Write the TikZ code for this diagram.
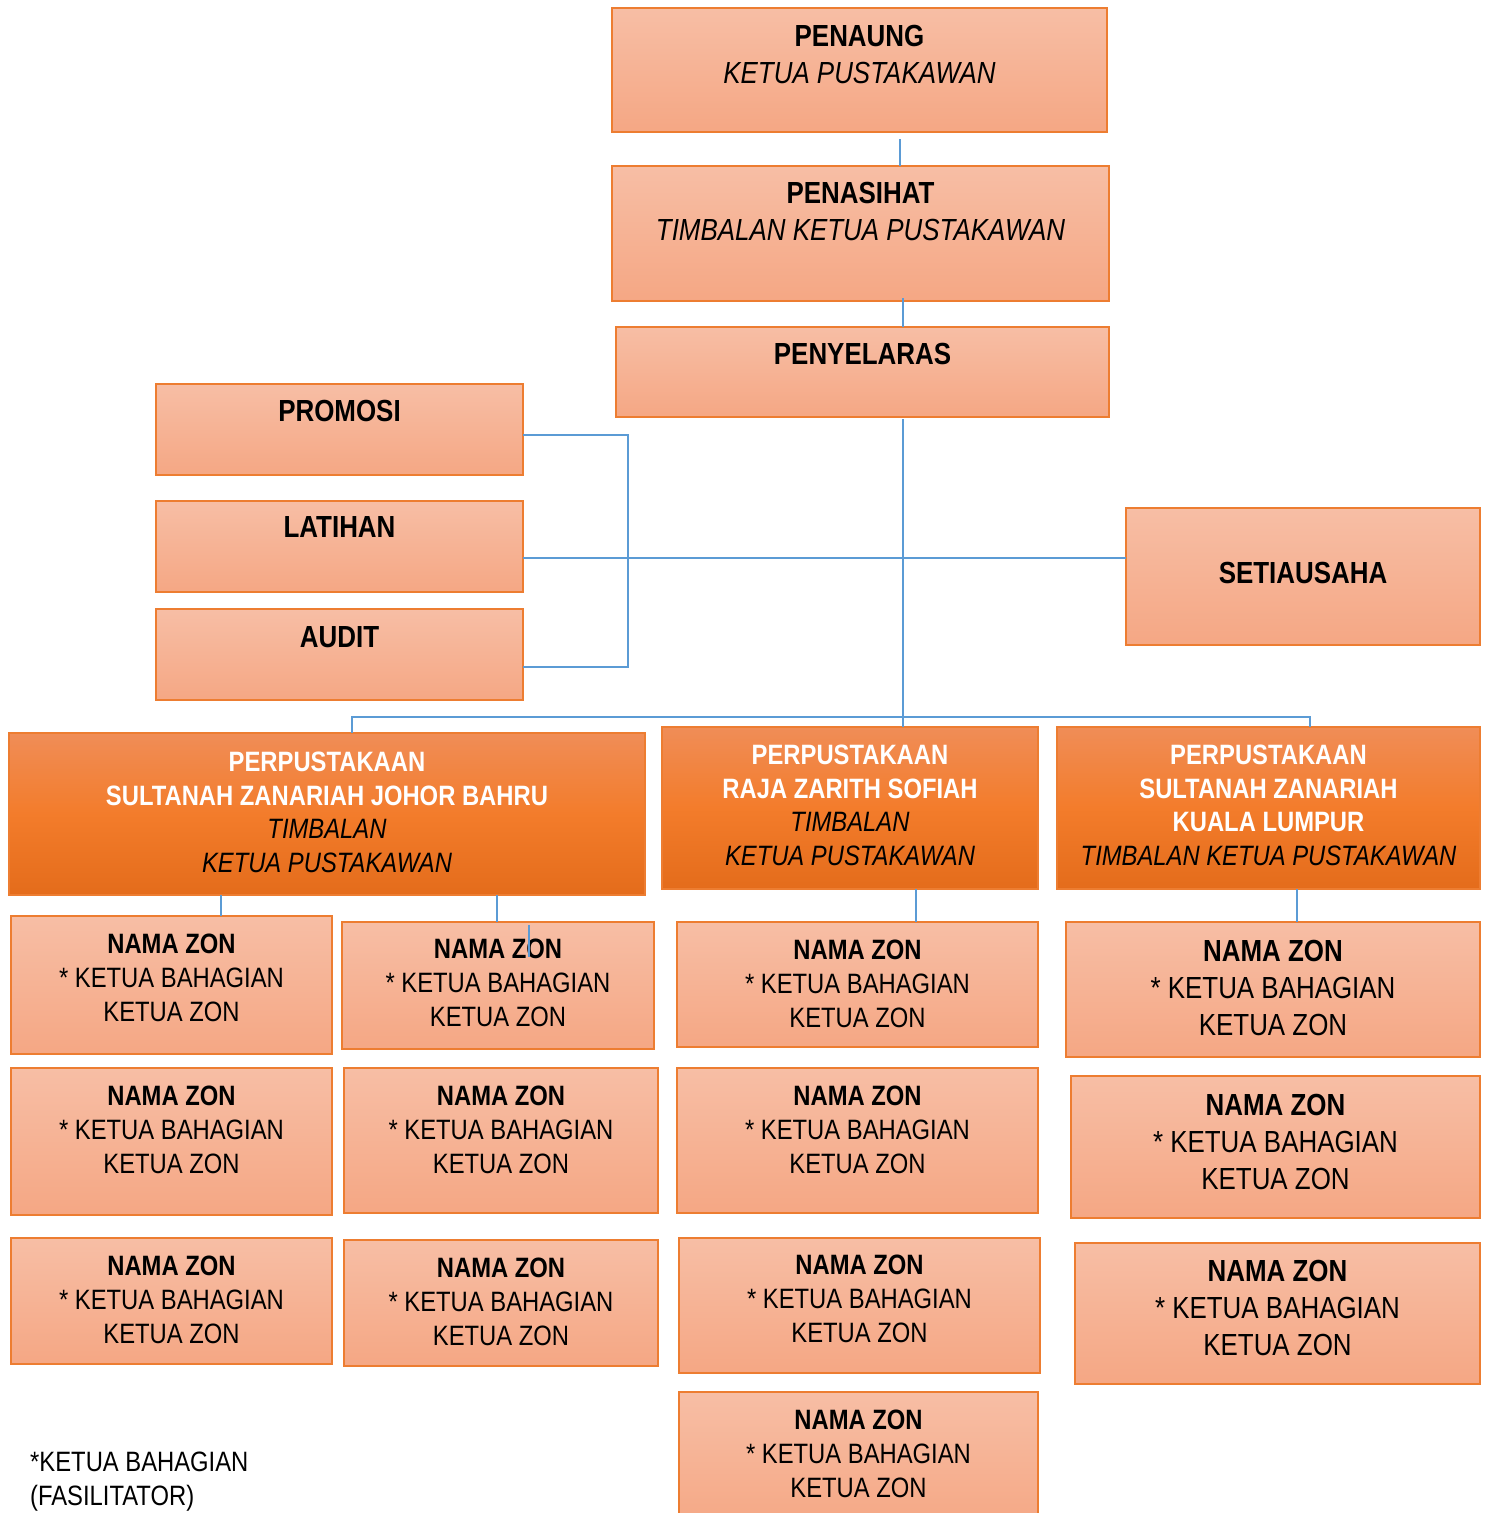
\documentclass[tikz,border=0pt]{standalone}
\usepackage{fontspec}
\setmainfont{Liberation Sans}[FakeStretch=0.85]
\definecolor{borderor}{HTML}{ED7D31}
\definecolor{ltop}{HTML}{F7BEA5}
\definecolor{lbot}{HTML}{F5A784}
\definecolor{dtop}{HTML}{F08D57}
\definecolor{dmid}{HTML}{F37C2B}
\definecolor{dbot}{HTML}{E46C1B}
\definecolor{connblue}{HTML}{5B9BD5}
\newcommand\fA{\fontsize{30.5}{37}\selectfont}
\newcommand\fZ{\fontsize{28}{34}\selectfont}
\newcommand\fD{\fontsize{28}{33.5}\selectfont}
\newcommand\orgbox[8]{%
  \node[#1, minimum width={#5-#3}, minimum height={#6-#4}] (#2) at ({(#3+#5)/2},{(#4+#6)/2}) {};
  \node[txt, anchor=north] (#2t) at ({(#3+#5)/2},#7) {#8};}
\newcommand\zon{\textbf{NAMA ZON}\\{}* KETUA BAHAGIAN\\KETUA ZON}
\begin{document}
\begin{tikzpicture}[x=1pt,y=-1pt,
  lbox/.style={draw=borderor, line width=1.8pt, top color=ltop, bottom color=lbot, inner sep=0, outer sep=0},
  dbox/.style={draw=borderor, line width=1.4pt, top color=dtop, bottom color=dbot, middle color=dmid, inner sep=0, outer sep=0},
  txt/.style={align=center, inner sep=0, outer sep=0},
  conn/.style={draw=connblue, line width=1.6pt}]
\useasboundingbox (0,0) rectangle (1487,1513);
\clip (0,0) rectangle (1487,1513);
% top boxes
\tikzset{txt/.append style={font=\fA}}
\orgbox{lbox}{pen}{612}{8}{1107}{132}{25}{\textbf{PENAUNG}\\\textit{KETUA PUSTAKAWAN}}
\orgbox{lbox}{pns}{612}{166}{1109}{301}{182}{\textbf{PENASIHAT}\\\textit{TIMBALAN KETUA PUSTAKAWAN}}
\orgbox{lbox}{pny}{616}{327}{1109}{417}{343}{\textbf{PENYELARAS}}
\orgbox{lbox}{pro}{156}{384}{523}{475}{400}{\textbf{PROMOSI}}
\orgbox{lbox}{lat}{156}{501}{523}{592}{517}{\textbf{LATIHAN}}
\orgbox{lbox}{aud}{156}{609}{523}{700}{627}{\textbf{AUDIT}}
\orgbox{lbox}{set}{1126}{508}{1480}{645}{562}{\textbf{SETIAUSAHA}}
% library boxes
\tikzset{txt/.append style={font=\fD}}
\orgbox{dbox}{jb}{9}{733}{645}{895}{752}{\textcolor{white}{\textbf{PERPUSTAKAAN}}\\\textcolor{white}{\textbf{SULTANAH ZANARIAH JOHOR BAHRU}}\\\textit{TIMBALAN}\\\textit{KETUA PUSTAKAWAN}}
\orgbox{dbox}{rzs}{662}{727}{1038}{889}{745}{\textcolor{white}{\textbf{PERPUSTAKAAN}}\\\textcolor{white}{\textbf{RAJA ZARITH SOFIAH}}\\\textit{TIMBALAN}\\\textit{KETUA PUSTAKAWAN}}
\orgbox{dbox}{kl}{1057}{727}{1480}{889}{745}{\textcolor{white}{\textbf{PERPUSTAKAAN}}\\\textcolor{white}{\textbf{SULTANAH ZANARIAH}}\\\textcolor{white}{\textbf{KUALA LUMPUR}}\\\textit{TIMBALAN KETUA PUSTAKAWAN}}
% zone boxes
\tikzset{txt/.append style={font=\fZ}}
\orgbox{lbox}{z11}{11}{916}{332}{1054}{934}{\zon}
\orgbox{lbox}{z12}{11}{1068}{332}{1215}{1086}{\zon}
\orgbox{lbox}{z13}{11}{1238}{332}{1364}{1256}{\zon}
\orgbox{lbox}{z21}{342}{922}{654}{1049}{939}{\zon}
\orgbox{lbox}{z22}{344}{1068}{658}{1213}{1086}{\zon}
\orgbox{lbox}{z23}{344}{1240}{658}{1366}{1258}{\zon}
\orgbox{lbox}{z31}{677}{922}{1038}{1047}{940}{\zon}
\orgbox{lbox}{z32}{677}{1068}{1038}{1213}{1086}{\zon}
\orgbox{lbox}{z33}{679}{1238}{1040}{1373}{1255}{\zon}
\orgbox{lbox}{z34}{679}{1392}{1038}{1530}{1410}{\zon}
\tikzset{txt/.append style={font=\fA}}
\orgbox{lbox}{z41}{1066}{922}{1480}{1057}{940}{\zon}
\orgbox{lbox}{z42}{1071}{1076}{1480}{1218}{1094}{\zon}
\orgbox{lbox}{z43}{1075}{1243}{1480}{1384}{1260}{\zon}
% footnote
\node[anchor=north west, align=left, font=\fZ, inner sep=0] (note) at (30,1452) {*KETUA BAHAGIAN\\(FASILITATOR)};
% connectors
\coordinate (v1) at (900,139);
\coordinate (v2) at (903,0);
\coordinate (busL) at (352,717);
\coordinate (busR) at (1310,717);
\coordinate (h1) at (0,558);
\coordinate (bt) at (628,435);
\coordinate (bb) at (628,667);
\coordinate (d1) at (221,0);
\coordinate (d2) at (497,0);
\coordinate (d3) at (916,0);
\coordinate (d4) at (1297,0);
\coordinate (a1) at (529,925);
\coordinate (a2) at (529,957);
\draw[conn] (v1) -- (v1 |- pns.north);
\draw[conn] ([yshift=3pt]pns.south -| v2) -- (pny.north -| v2);
\draw[conn] ([yshift=-2pt]pny.south -| v2) -- (rzs.north -| v2);
\draw[conn] (jb.north -| busL) -- (busL) -- (busR) -- (kl.north -| busR);
\draw[conn] (lat.east |- h1) -- (set.west |- h1);
\draw[conn] (pro.east |- bt) -- (bt) -- (bb) -- (aud.east |- bb);
\draw[conn] (jb.south -| d1) -- (z11.north -| d1);
\draw[conn] (jb.south -| d2) -- (z21.north -| d2);
\draw[conn] (rzs.south -| d3) -- (z31.north -| d3);
\draw[conn] (kl.south -| d4) -- (z41.north -| d4);
\draw[conn] (a1) -- (a2);
\end{tikzpicture}
\end{document}
